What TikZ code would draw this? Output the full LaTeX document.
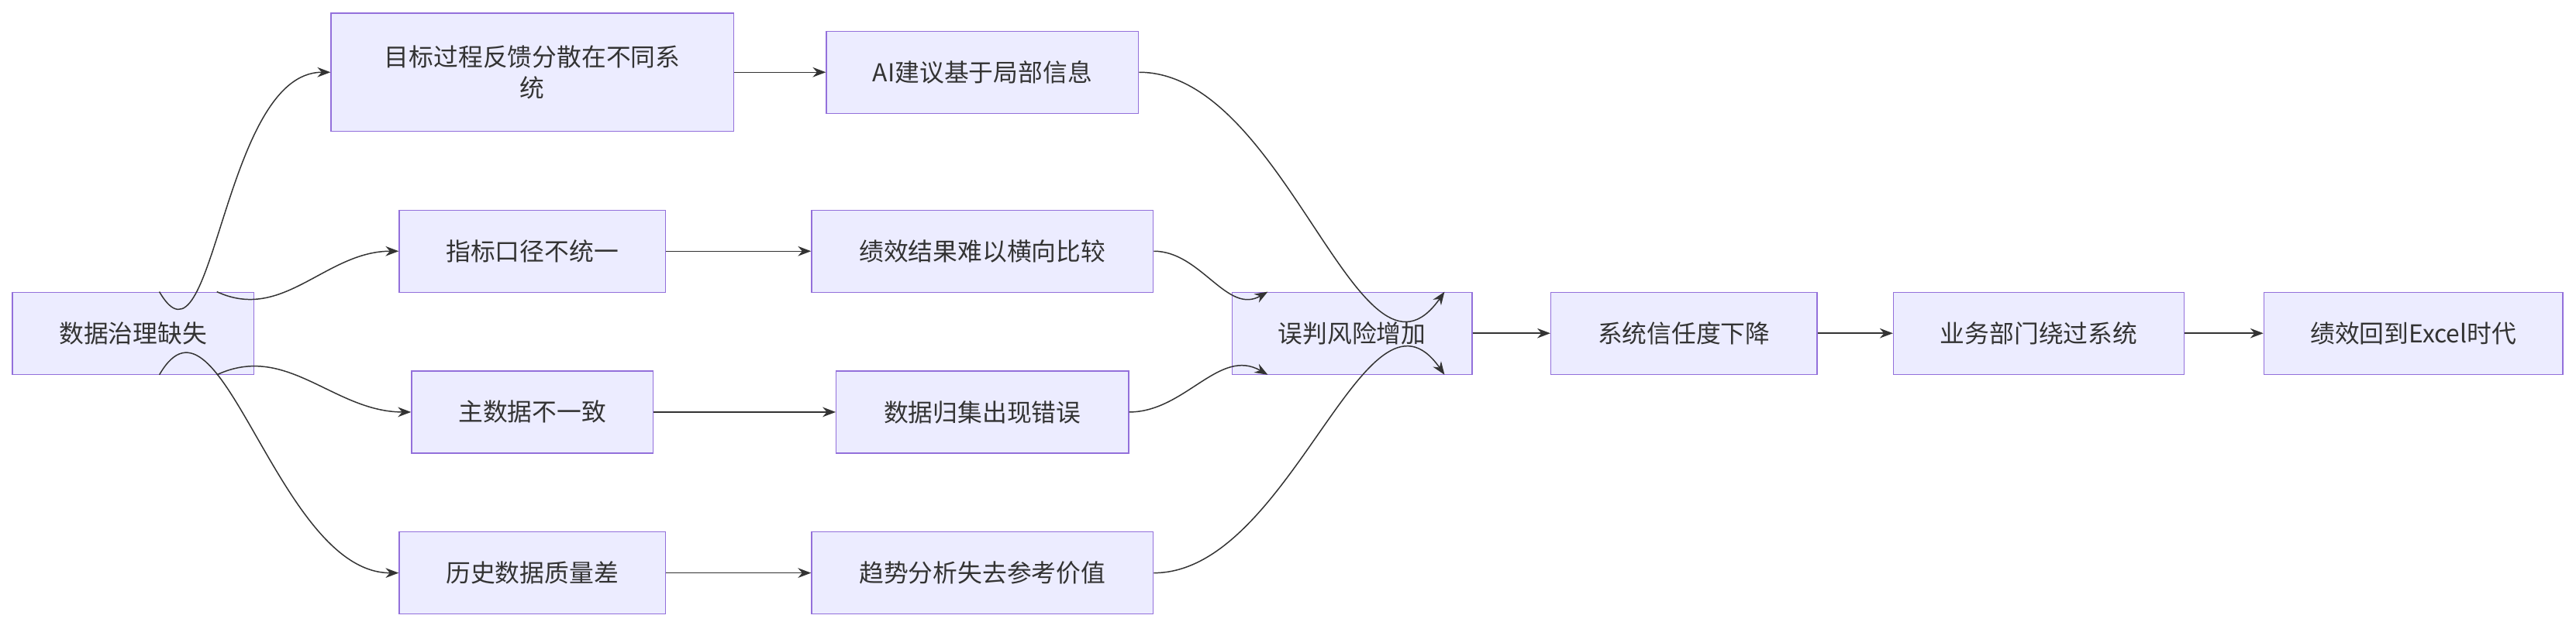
\documentclass[tikz,border=0pt]{standalone}
\usepackage{fontspec}
\setmainfont{Noto Sans CJK SC}
\usetikzlibrary{arrows.meta}
\definecolor{nfill}{HTML}{ECECFF}
\definecolor{nline}{HTML}{9370DB}
\definecolor{eline}{HTML}{333333}
\begin{document}
\begin{tikzpicture}[x=1pt,y=-1pt,
  box/.style={draw=nline,fill=nfill,line width=0.6pt,minimum height=50pt,inner sep=0pt,font=\fontsize{15}{19}\selectfont,text=eline,align=center},
  e/.style={draw=eline,line width=0.7pt,-{Stealth[length=8pt,width=6pt]}}]
\useasboundingbox (0,0) rectangle (1568,383);
\node[box,minimum width=147pt] (a) at (81,203) {数据治理缺失};
\node[box,minimum width=245pt,minimum height=72pt] (b1) at (324,44) {目标过程反馈分散在不同系\\统};
\node[box,minimum width=190pt] (c1) at (598,44) {AI建议基于局部信息};
\node[box,minimum width=162pt] (b2) at (324,153) {指标口径不统一};
\node[box,minimum width=208pt] (c2) at (598,153) {绩效结果难以横向比较};
\node[box,minimum width=147pt] (b3) at (324,251) {主数据不一致};
\node[box,minimum width=178pt] (c3) at (598,251) {数据归集出现错误};
\node[box,minimum width=162pt] (b4) at (324,349) {历史数据质量差};
\node[box,minimum width=208pt] (c4) at (598,349) {趋势分析失去参考价值};
\node[box,minimum width=146pt] (d) at (823,203) {误判风险增加};
\node[box,minimum width=162pt] (f) at (1025,203) {系统信任度下降};
\node[box,minimum width=177pt] (g) at (1241,203) {业务部门绕过系统};
\node[box,minimum width=182pt] (h) at (1469,203) {绩效回到Excel时代};
\draw[e] ([xshift=16pt]a.north) to[out=-60,in=180] (b1.west);
\draw[e] ([xshift=51pt]a.north) to[out=-25,in=180] (b2.west);
\draw[e] ([xshift=51pt]a.south) to[out=25,in=180] (b3.west);
\draw[e] ([xshift=16pt]a.south) to[out=60,in=180] (b4.west);
\draw[e] (b1) -- (c1);
\draw[e] (b2) -- (c2);
\draw[e] (b3) -- (c3);
\draw[e] (b4) -- (c4);
\draw[e] (c1.east) to[out=0,in=-125] ([xshift=-17pt]d.north east);
\draw[e] (c2.east) to[out=0,in=-150] ([xshift=22pt]d.north west);
\draw[e] (c3.east) to[out=0,in=150] ([xshift=22pt]d.south west);
\draw[e] (c4.east) to[out=0,in=125] ([xshift=-17pt]d.south east);
\draw[e] (d) -- (f);
\draw[e] (f) -- (g);
\draw[e] (g) -- (h);
\end{tikzpicture}
\end{document}
